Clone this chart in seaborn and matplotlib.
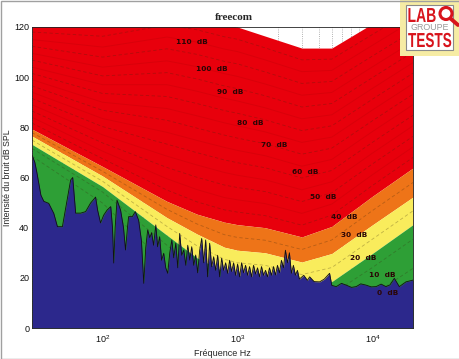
import matplotlib
matplotlib.use("Agg")
import matplotlib.pyplot as plt
import seaborn as sns
from matplotlib.patches import Rectangle, Circle, PathPatch
from matplotlib.textpath import TextPath
from matplotlib.font_manager import FontProperties
from matplotlib.transforms import Affine2D, IdentityTransform
from matplotlib.lines import Line2D

# ---------------- data ----------------
freq_nodes = [30, 100, 300, 500, 800, 1000, 1600, 3000, 5000, 10000, 20000]

c0 = [67, 47.5, 21, 9, 2, 1.5, 0, -4, -1.5, 7.5, 18]
c10 = [70, 52, 29, 18.5, 12.5, 11.2, 10, 6, 8.5, 18.5, 29.6]
c20 = [73.2, 56.4, 37, 28, 22.5, 21.0, 20, 16.3, 18.5, 29.7, 41.2]
c30 = [76.5, 60.6, 44, 37.5, 32.2, 31.0, 30, 26.3, 29.7, 41.1, 52.2]
c40 = [79.3, 64.4, 50.5, 45.4, 42.2, 41.2, 40.0, 36.3, 40.5, 52.5, 63.8]
c50 = [84, 70.5, 59.5, 55.2, 52, 51.1, 49.6, 45.7, 49.4, 61.1, 72.2]
c60 = [89, 77, 68.5, 65, 62, 60.9, 59.1, 55.1, 58.3, 69.7, 80.6]
c70 = [94, 83.5, 78, 74.8, 72, 70.8, 68.7, 64.5, 67.2, 78.3, 89]
c80 = [99, 90, 87.5, 84.6, 81.8, 80.6, 78.2, 74, 76.1, 86.9, 97.4]
c90 = [104, 97, 97, 94.4, 91.6, 90.5, 87.8, 83.4, 85, 95.5, 105.8]
c100 = [109.5, 104, 106.5, 104.2, 101.4, 100.3, 97.3, 92.8, 93.9, 104.1, 114.2]
c110 = [115, 112, 116, 114, 111.2, 110.2, 106.9, 102.2, 102.7, 112.7, 122.6]
c120 = [121, 120.5, 125.5, 123.8, 121, 120, 116.4, 111.6, 111.6, 121.3, 131]

d5 = [68.5, 49.8, 25, 13.8, 7.3, 6.4, 5, 1, 3.5, 13, 23.8]
d15 = [71.6, 54.2, 33, 23.3, 17.5, 16.1, 15, 11.2, 13.5, 24.1, 35.4]
d25 = [74.9, 58.5, 40.5, 32.8, 27.4, 26, 25, 21.3, 24.1, 35.4, 46.7]
d35 = [77.9, 62.5, 47.3, 41.5, 37.2, 36.1, 35, 31.3, 35.1, 46.8, 58]
d45 = [81.7, 67.5, 55, 50.3, 47.1, 46.2, 44.8, 41, 45, 56.8, 68]
d55 = [86.5, 73.8, 64, 60.1, 57, 56, 54.4, 50.4, 53.9, 65.4, 76.4]
d65 = [91.5, 80.3, 73.3, 69.9, 67, 65.9, 63.9, 59.8, 62.8, 74, 84.8]
d75 = [96.5, 86.8, 82.8, 79.7, 76.9, 75.7, 73.5, 69.3, 71.7, 82.6, 93.2]
d85 = [101.5, 93.5, 92.3, 89.5, 86.7, 85.6, 83, 78.7, 80.6, 91.2, 101.6]
d95 = [106.8, 100.5, 101.8, 99.3, 96.5, 95.4, 92.6, 88.1, 89.5, 99.8, 110]
d105 = [112.3, 108, 111.3, 109.1, 106.3, 105.3, 102.1, 97.5, 98.3, 108.4, 118.4]
d115 = [118, 116.3, 120.8, 118.9, 116.1, 115.1, 111.7, 106.9, 107.2, 117, 126.8]

noise_freq_low = [30, 31.5, 32.6, 34.9, 36.7, 39.9, 43.5, 46.3, 50.4, 54.2,
                  58.0, 60.1, 63.2, 68.8, 74.9, 81.5, 88.8, 91.9, 96.6, 102,
                  108, 115, 118.5, 121, 124, 128, 136, 143, 148, 153,
                  156, 166, 175, 185, 194]
noise_db_low = [69, 66, 62, 53, 50.5, 49.7, 45.7, 40.4, 40.4, 50,
                59, 60, 45.8, 45.8, 46.4, 49.8, 52.2, 47, 41.9, 45,
                47, 48.4, 40, 25.9, 40, 51, 47, 40, 31.1, 40,
                44.4, 44.4, 46.4, 43, 35]

noise_freq_mid = [202, 209, 216, 224, 231, 239, 248, 256, 265, 274,
                  284, 294, 304, 315, 326, 337, 349, 361, 373, 386,
                  400, 414, 428, 443, 458, 474, 490, 507, 525, 543,
                  562, 581, 601, 622, 644, 666, 689, 713, 738, 763,
                  790, 817, 845, 875, 905, 936, 969, 1002, 1037, 1073,
                  1110, 1148, 1188, 1229, 1272, 1316, 1361, 1408, 1457, 1507,
                  1560, 1614, 1669, 1727, 1787, 1849, 1913, 1979, 2047, 2118,
                  2192, 2267, 2346, 2427, 2511, 2598, 2688, 2781, 2877]
noise_db_mid = [17.8, 32, 39.1, 36, 38, 33, 41.1, 32.4, 36.4, 27,
                29.8, 24, 21.8, 30, 35.1, 28, 33.8, 24, 37.7, 29,
                31.1, 25, 33, 27.1, 32.4, 25, 29.1, 22, 31.1, 35.7,
                26, 35.1, 20.4, 33.8, 24.4, 28.4, 23, 29, 20.4, 27.8,
                23, 26, 21.8, 27, 22.5, 26, 21, 25.5, 20.4, 26,
                22, 25, 21, 24.5, 20.4, 25, 21.5, 24, 20.4, 24.5,
                21, 23, 20.4, 24, 21, 24.5, 21.1, 25, 22, 27,
                24, 31, 26, 30, 21.8, 25, 21, 23, 19.5]

noise_freq_high = [3100, 3300, 3428, 3700, 4064, 4400, 4817, 5000, 5397, 5900,
                   6397, 7000, 7582, 8200, 8984, 9800, 10650, 11600, 12620, 13500,
                   14540, 15830, 17740, 20000]
noise_db_high = [21, 19, 20.4, 18.5, 18.4, 19.5, 21.8, 17, 16.5, 17.8,
                 17.1, 16.2, 16.5, 17.6, 17.1, 16.4, 16.5, 17.5, 16.5, 17.2,
                 19.8, 16.5, 18.4, 19.1]

label_texts = ["110  dB", "100  dB", "90  dB", "80  dB", "70  dB", "60  dB",
               "50  dB", "40  dB", "30  dB", "20  dB", "10  dB", "0  dB"]
label_freq = [461, 648, 881, 1236, 1862, 3150, 4350, 6200, 7360, 8590, 11870, 12900]
label_db = [114, 103.3, 94.1, 81.7, 72.9, 62.2, 52.2, 44.2, 37.1, 27.9, 21.1, 14.0]

y_ticks = [0, 20, 40, 60, 80, 100, 120]

noise_freq = noise_freq_low + noise_freq_mid + noise_freq_high
noise_db = noise_db_low + noise_db_mid + noise_db_high

# ---------------- style ----------------
sns.set_theme(style="white")
plt.rcParams['font.family'] = ['Liberation Sans', 'DejaVu Sans']

RED = '#e8000c'
ORANGE = '#ee7418'
YELLOW = '#f9ec5c'
GREEN = '#2e9f36'
BLUE = '#2c288c'

W, H = 460, 359
fig = plt.figure(figsize=(W / 100, H / 100), dpi=100)
fig.patch.set_facecolor('white')
ax = fig.add_axes([32 / W, 1 - 328 / H, 381 / W, 301 / H])
ax.set_facecolor('white')
ax.set_xscale('log')
ax.set_xlim(30, 20000)
ax.set_ylim(0, 120)
ax.set_axisbelow(True)
ax.grid(True, which='both', axis='x', linestyle=':', color='#9a9a9a', lw=0.6)

# coloured bands
ax.fill_between(freq_nodes, c40, c120, color=RED, lw=0, zorder=1)
ax.fill_between(freq_nodes, c30, c40, color=ORANGE, lw=0, zorder=1)
ax.fill_between(freq_nodes, c20, c30, color=YELLOW, lw=0, zorder=1)
ax.fill_between(freq_nodes, [0] * len(freq_nodes), c20, color=GREEN, lw=0, zorder=1)

# faint contour lines
for arr in [c50, c60, c70, c80, c90, c100, c110]:
    sns.lineplot(x=freq_nodes, y=arr, ax=ax, color='#700000', alpha=0.12,
                 lw=0.7, estimator=None, sort=False, legend=False, zorder=2)
for arr in [d5, d15, d25, d35, d45, d55, d65, d75, d85, d95, d105, d115]:
    sns.lineplot(x=freq_nodes, y=arr, ax=ax, color='#3a2a10', alpha=0.3,
                 lw=0.6, linestyle=(0, (4, 3)), estimator=None, sort=False,
                 legend=False, zorder=2)

# noise spectrum
ax.fill_between(noise_freq, [0] * len(noise_freq), noise_db, color=BLUE, lw=0, zorder=3)
sns.lineplot(x=noise_freq, y=noise_db, ax=ax, color='#111111', lw=0.6,
             estimator=None, sort=False, legend=False, zorder=4)

# level labels
for t, fx, fy in zip(label_texts, label_freq, label_db):
    ax.text(fx, fy, t, ha='center', va='center', fontsize=5.3,
            fontweight='bold', color='#2a0505', family='DejaVu Sans', zorder=6)

ax.set_yticks(y_ticks)
ax.tick_params(axis='both', which='both', direction='in', labelsize=6.5,
               colors='#111111', pad=2)
ax.tick_params(axis='both', which='major', length=2.5, width=0.5)
ax.tick_params(axis='x', which='minor', length=1.5, width=0.4)
ax.tick_params(axis='x', which='major', pad=4)
for s in ax.spines.values():
    s.set_color('#222222')
    s.set_linewidth(0.6)
    s.set_zorder(7)

ax.set_xlabel('Fréquence Hz', fontsize=6.5, labelpad=3)
ax.set_ylabel('Intensité du bruit dB SPL', fontsize=6.3, labelpad=1.5)
ax.set_title('freecom', fontsize=8, fontweight='bold',
             family=['Liberation Serif', 'DejaVu Serif'], x=0.531, pad=5)

# ---------------- logo (pixel coordinates) ----------------
ident = IdentityTransform()
def py(y):
    return H - y

fig.add_artist(Rectangle((400, py(56)), 60, 56, transform=ident,
                         facecolor='#f6eca4', edgecolor='none', zorder=10))
fig.add_artist(Rectangle((406, py(50)), 47, 45, transform=ident,
                         facecolor='white', edgecolor='#8a8a8a', lw=0.8, zorder=11))
bold = FontProperties(family='Liberation Sans', weight='bold')
tp = TextPath((0, 0), 'LAB', size=14, prop=bold)
fig.add_artist(PathPatch(tp, transform=Affine2D().scale(1.0, 1.45).translate(407.5, py(22)),
                         facecolor='#d8141c', edgecolor='none', zorder=12))
fig.add_artist(Circle((446, py(13.5)), 6.0, transform=ident, facecolor='none',
                      edgecolor='#d8141c', lw=2.2, zorder=12))
fig.add_artist(Line2D([450.5, 458], [py(18.5), py(25)], transform=ident,
                      color='#d8141c', lw=2.8, zorder=12))
fig.text(430, py(27.5), 'GROUPE', transform=ident, ha='center', va='center',
         fontsize=6.4, color='#9a9a9a', zorder=12)
tp2 = TextPath((0, 0), 'TESTS', size=14, prop=bold)
fig.add_artist(PathPatch(tp2, transform=Affine2D().scale(0.97, 1.45).translate(408, py(47)),
                         facecolor='#d8141c', edgecolor='none', zorder=12))

# figure border
fig.add_artist(Rectangle((0.5, 0.5), W - 1, H - 1, transform=ident,
                         facecolor='none', edgecolor='#a0a0a0', lw=1, zorder=20))

fig.savefig('out.png', dpi=100)
